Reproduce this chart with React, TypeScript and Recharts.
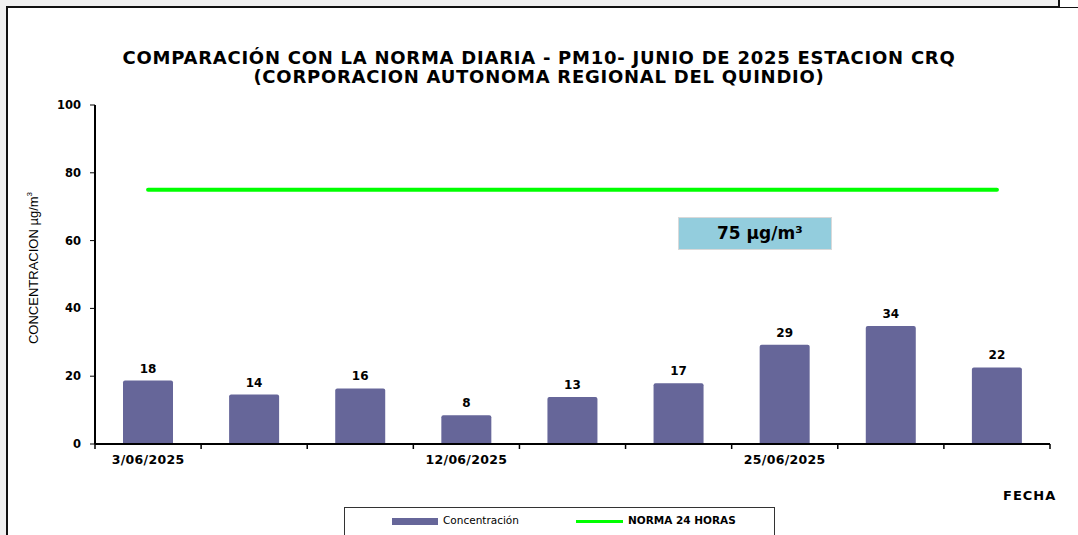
import React from 'react'
import { ComposedChart, Bar, Line, XAxis, YAxis, LabelList } from 'recharts'

const fechas = ['3/06/2025', '', '', '12/06/2025', '', '', '25/06/2025', '', '']
const concentracion = [18.7, 14.6, 16.4, 8.5, 13.9, 17.9, 29.3, 34.8, 22.6]
const norma = [75, 75, 75, 75, 75, 75, 75, 75, 75]
const yTicks = [0, 20, 40, 60, 80, 100]

const W = 1078
const H = 535
const MARGIN = { top: 105, right: 28, bottom: 61, left: 35 }
const Y_W = 60
const BAND = (W - MARGIN.left - Y_W - MARGIN.right) / fechas.length

const BAR_COLOR = '#666699'
const GREEN = '#00ff00'
const FONT = '"DejaVu Sans", Verdana, sans-serif'

const data = fechas.map((f, i) => ({ fecha: f, valor: concentracion[i], norma: norma[i] }))

const FechaTick = (props: any) => {
  const { x, y, payload, index } = props
  const left = x - BAND / 2
  return (
    <g>
      <line x1={left} x2={left} y1={y} y2={y + 5} stroke="#000" strokeWidth={1.5} />
      {index === fechas.length - 1 && (
        <line x1={left + BAND} x2={left + BAND} y1={y} y2={y + 5} stroke="#000" strokeWidth={1.5} />
      )}
      <text
        x={x}
        y={y + 20}
        textAnchor="middle"
        fontFamily={FONT}
        fontWeight="bold"
        fontSize={12.5}
        letterSpacing={0.3}
        fill="#000"
      >
        {payload.value}
      </text>
    </g>
  )
}

export default function App() {
  return (
    <div
      style={{
        position: 'absolute',
        left: 0,
        top: 0,
        width: W,
        height: H,
        background: '#f0f0f0',
        overflow: 'hidden',
      }}
    >
      <div
        style={{
          position: 'absolute',
          left: 6,
          top: 6,
          width: W,
          height: H,
          background: '#fff',
          borderLeft: '2px solid #111',
          borderTop: '2px solid #111',
        }}
      />
      <div
        style={{
          position: 'absolute',
          left: 1058,
          top: 0,
          width: 20,
          height: 7,
          background: '#fff',
          borderLeft: '2px solid #111',
        }}
      />

      <div
        style={{
          position: 'absolute',
          left: 0,
          top: 48,
          width: W,
          textAlign: 'center',
          fontFamily: FONT,
          fontWeight: 'bold',
          fontSize: 18,
          letterSpacing: 0.75,
          lineHeight: '19px',
          color: '#000',
        }}
      >
        COMPARACIÓN CON LA NORMA DIARIA - PM10- JUNIO DE 2025 ESTACION CRQ
        <br />
        (CORPORACION AUTONOMA REGIONAL DEL QUINDIO)
      </div>

      <div style={{ position: 'absolute', left: 0, top: 0 }}>
        <ComposedChart width={W} height={H} data={data} margin={MARGIN} barSize={50}>
          <XAxis
            dataKey="fecha"
            allowDuplicatedCategory
            interval={0}
            height={30}
            tickSize={0}
            tickMargin={0}
            tickLine={false}
            axisLine={{ stroke: '#000', strokeWidth: 2 }}
            tick={<FechaTick />}
          />
          <XAxis
            xAxisId="top"
            orientation="top"
            dataKey="fecha"
            allowDuplicatedCategory
            height={0}
            tick={false}
            tickLine={false}
            axisLine={{ stroke: '#000', strokeWidth: 2 }}
          />
          <YAxis
            domain={[0, 100]}
            ticks={yTicks}
            width={Y_W}
            interval={0}
            tickSize={5}
            tickMargin={9}
            axisLine={{ stroke: '#000', strokeWidth: 2 }}
            tickLine={{ stroke: '#000', strokeWidth: 1 }}
            tick={{ fill: '#000', fontFamily: FONT, fontWeight: 'bold', fontSize: 11.5 }}
          />
          <YAxis
            yAxisId="right"
            orientation="right"
            domain={[0, 100]}
            width={0}
            tick={false}
            tickLine={false}
            axisLine={{ stroke: '#000', strokeWidth: 2 }}
          />
          <Bar dataKey="valor" name="Concentración" fill={BAR_COLOR} radius={[2, 2, 0, 0]} isAnimationActive={false}>
            <LabelList
              dataKey="valor"
              position="top"
              offset={8}
              formatter={(v: any) => Math.trunc(Number(v))}
              fill="#000"
              fontFamily={FONT}
              fontWeight="bold"
              fontSize={12}
            />
          </Bar>
          <Line
            dataKey="norma"
            name="NORMA 24 HORAS"
            stroke={GREEN}
            strokeWidth={4}
            strokeLinecap="round"
            dot={false}
            activeDot={false}
            isAnimationActive={false}
          />
        </ComposedChart>
      </div>

      <div
        style={{
          position: 'absolute',
          left: 20,
          top: 268,
          transform: 'translate(-50%, -50%) rotate(-90deg)',
          transformOrigin: 'center',
          marginLeft: 13,
          whiteSpace: 'nowrap',
          fontFamily: '"Liberation Sans", Arial, sans-serif',
          fontSize: 13,
          color: '#000',
        }}
      >
        CONCENTRACION µg/m<sup style={{ fontSize: 8 }}>3</sup>
      </div>

      <div
        style={{
          position: 'absolute',
          left: 678,
          top: 217,
          width: 154,
          height: 33,
          boxSizing: 'border-box',
          background: '#93cddd',
          border: '1px solid #d9d9d9',
          fontFamily: FONT,
          fontWeight: 'bold',
          fontSize: 17,
          lineHeight: '31px',
          paddingLeft: 38,
          color: '#000',
        }}
      >
        75 µg/m³
      </div>

      <div
        style={{
          position: 'absolute',
          left: 1003,
          top: 488,
          fontFamily: FONT,
          fontWeight: 'bold',
          fontSize: 13,
          letterSpacing: 1,
          color: '#000',
        }}
      >
        FECHA
      </div>

      <div
        style={{
          position: 'absolute',
          left: 344,
          top: 507,
          width: 431,
          height: 40,
          boxSizing: 'border-box',
          border: '1px solid #333',
          background: '#fff',
          fontSize: 10.5,
          color: '#000',
        }}
      >
        <div style={{ position: 'absolute', left: 47, top: 10, width: 46, height: 7, background: BAR_COLOR }} />
        <div style={{ position: 'absolute', left: 98, top: 6, fontFamily: FONT }}>Concentración</div>
        <div style={{ position: 'absolute', left: 231, top: 12, width: 47, height: 3, background: GREEN }} />
        <div style={{ position: 'absolute', left: 283, top: 6, fontFamily: FONT, fontWeight: 'bold' }}>
          NORMA 24 HORAS
        </div>
      </div>
    </div>
  )
}
